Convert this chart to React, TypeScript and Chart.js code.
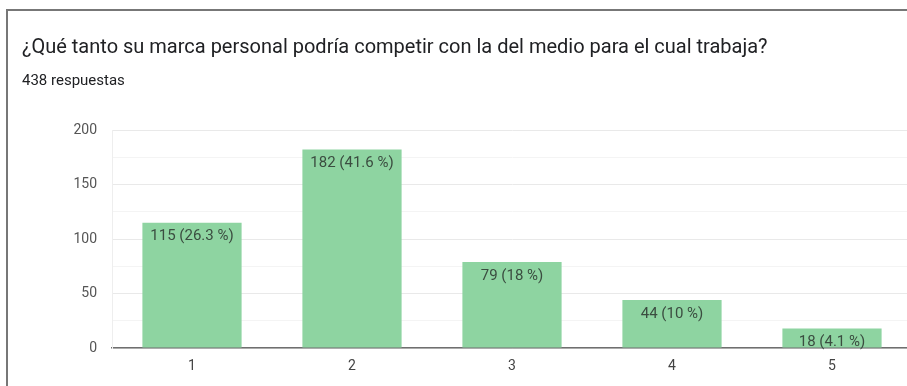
import React, { useEffect, useRef } from "react";
import { Chart, registerables } from "chart.js";

Chart.register(...registerables);

const TITLE = "¿Qué tanto su marca personal podría competir con la del medio para el cual trabaja?";
const SUBTITLE = "438 respuestas";
const categories = ["1", "2", "3", "4", "5"];
const counts = [115, 182, 79, 44, 18];
const percents = ["26.3", "41.6", "18", "10", "4.1"];
const yTicks = [0, 50, 100, 150, 200];

const FONT = "Roboto, 'Noto Sans', Arial, sans-serif";

const barLabels = {
  id: "barLabels",
  afterDatasetsDraw(chart: any) {
    const ctx = chart.ctx;
    const meta = chart.getDatasetMeta(0);
    ctx.save();
    ctx.font = `15px ${FONT}`;
    ctx.fillStyle = "#3b4d40";
    ctx.textAlign = "center";
    ctx.textBaseline = "middle";
    meta.data.forEach((bar: any, i: number) => {
      ctx.fillText(`${counts[i]} (${percents[i]} %)`, bar.x, bar.y + 14);
    });
    ctx.restore();
  },
};

export default function App() {
  const ref = useRef<HTMLCanvasElement | null>(null);
  useEffect(() => {
    if (!ref.current) return;
    const chart = new Chart(ref.current, {
      type: "bar",
      data: {
        labels: categories,
        datasets: [
          {
            data: counts,
            backgroundColor: "#8ed4a1",
            borderWidth: 0,
            barPercentage: 0.62,
            categoryPercentage: 1,
          },
        ],
      },
      options: {
        responsive: false,
        animation: false,
        layout: { padding: { left: 0, right: 0, top: 130, bottom: 0 } },
        plugins: { legend: { display: false }, tooltip: { enabled: false }, title: { display: false } },
        scales: {
          x: {
            grid: { display: false, drawTicks: false },
            border: { display: true, color: "#6f6f6f", width: 1.5 },
            ticks: { color: "#444", font: { family: FONT, size: 14 }, padding: 10 },
            afterFit: (s: any) => {
              s.height = 38;
            },
          },
          y: {
            min: 0,
            max: 200,
            afterBuildTicks: (s: any) => {
              const t: any[] = [];
              for (let v = 0; v <= 200; v += 25) t.push({ value: v });
              s.ticks = t;
            },
            grid: {
              drawTicks: false,
              color: (c: any) => (c.tick && c.tick.value % 50 === 0 ? "#e9e9e9" : "#f4f4f4"),
              lineWidth: 1,
            },
            border: { display: true, color: "#eeeeee" },
            ticks: {
              color: "#555",
              font: { family: FONT, size: 14 },
              padding: 15,
              callback: (v: any) => (yTicks.includes(Number(v)) ? String(v) : ""),
            },
            afterFit: (s: any) => {
              s.width = 112;
            },
          },
        },
      },
      plugins: [barLabels],
    });
    return () => chart.destroy();
  }, []);

  return (
    <div style={{ position: "fixed", left: 0, top: 0, width: 907, height: 386, overflow: "hidden", background: "#fff" }}>
      <div
        style={{
          position: "absolute",
          left: 6,
          top: 9,
          right: -50,
          bottom: -50,
          borderLeft: "2px solid #777",
          borderTop: "2px solid #777",
        }}
      />
      <div style={{ position: "absolute", left: 0, top: 0, width: 907, height: 386, overflow: "hidden" }}>
        <canvas ref={ref} width={912} height={386} style={{ display: "block" }} />
      </div>
      <div
        style={{
          position: "absolute",
          left: 903,
          top: 12,
          width: 4,
          height: 116,
          background: "#fff",
          zIndex: 5,
        }}
      />
      <div
        style={{
          position: "absolute",
          left: 22,
          top: 33,
          fontFamily: FONT,
          fontSize: 20,
          lineHeight: "26px",
          color: "#202124",
          whiteSpace: "nowrap",
        }}
      >
        {TITLE}
      </div>
      <div
        style={{
          position: "absolute",
          left: 22,
          top: 70,
          fontFamily: FONT,
          fontSize: 15,
          lineHeight: "20px",
          color: "#202124",
          whiteSpace: "nowrap",
        }}
      >
        {SUBTITLE}
      </div>
    </div>
  );
}
